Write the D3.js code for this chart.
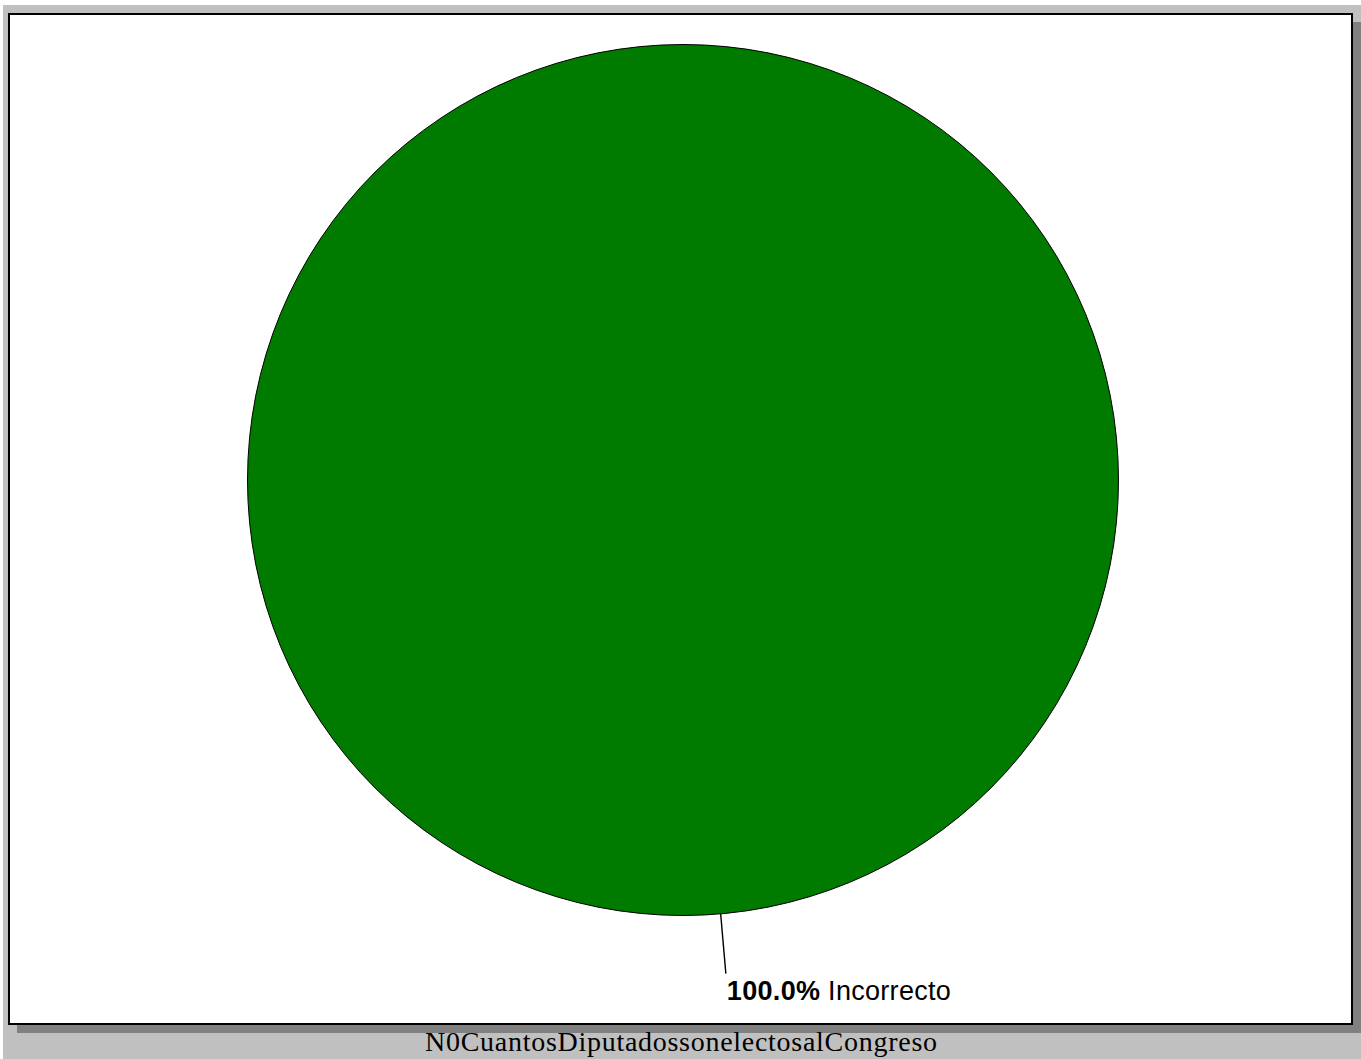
<!DOCTYPE html>
<html>
<head>
<meta charset="utf-8">
<script src="https://cdn.jsdelivr.net/npm/d3@7"></script>
<style>
  html, body { margin: 0; padding: 0; background: #ffffff; }
  svg { display: block; }
</style>
</head>
<body>
<svg id="chart" width="1361" height="1059"></svg>
<script>
const categories = ["Incorrecto"];
const values = [100];
const colors = ["#007b00"];
const title = "N0CuantosDiputadossonelectosalCongreso";

const W = 1361, H = 1059;
const svg = d3.select("#chart");

// backdrop
svg.append("rect").attr("x", 3).attr("y", 5).attr("width", W - 3).attr("height", H - 5).attr("fill", "#c0c0c0");
// shadow
svg.append("rect").attr("x", 17).attr("y", 22).attr("width", W - 17).attr("height", 1033 - 22).attr("fill", "#808080");
// panel
svg.append("rect").attr("x", 9).attr("y", 14).attr("width", 1343).attr("height", 1010)
  .attr("fill", "#ffffff").attr("stroke", "#000000").attr("stroke-width", 2);

const cx = 683, cy = 480, r = 435.5;
const g = svg.append("g").attr("transform", `translate(${cx},${cy})`);

const data = categories.map((c, i) => ({ name: c, value: values[i], color: colors[i] }));
const total = d3.sum(data, d => d.value);
const pie = d3.pie().value(d => d.value).sort(null);
const arcs = pie(data);
const arc = d3.arc().innerRadius(0).outerRadius(r);

g.selectAll("path.slice").data(arcs).join("path")
  .attr("class", "slice")
  .attr("d", arc)
  .attr("fill", d => d.data.color)
  .attr("stroke", "#000000")
  .attr("stroke-width", 1);

// leader lines & labels
const labelAngle = 3.055; // angle where the label leader leaves the pie
const leaderLen = 60;
arcs.forEach(a => {
  const ang = arcs.length === 1 ? labelAngle : (a.startAngle + a.endAngle) / 2;
  const x0 = Math.sin(ang) * r, y0 = -Math.cos(ang) * r;
  const x1 = Math.sin(ang) * (r + leaderLen), y1 = -Math.cos(ang) * (r + leaderLen);
  g.append("line").attr("x1", x0).attr("y1", y0).attr("x2", x1).attr("y2", y1)
    .attr("stroke", "#000000").attr("stroke-width", 1.4);
  const t = g.append("text")
    .attr("x", x1 + 1).attr("y", y1 + 26)
    .attr("font-family", "'Liberation Sans', Arial, sans-serif")
    .attr("font-size", 27)
    .attr("fill", "#000000")
    .attr("textLength", 224).attr("lengthAdjust", "spacing");
  t.append("tspan").attr("font-weight", "bold").text(d3.format(".1f")(a.data.value / total * 100) + "%");
  t.append("tspan").text(" " + a.data.name);
});

// title
svg.append("text")
  .attr("x", 681).attr("y", 1051)
  .attr("text-anchor", "middle")
  .attr("font-family", "'Liberation Serif', 'Times New Roman', serif")
  .attr("font-size", 28)
  .attr("fill", "#000000")
  .attr("textLength", 512).attr("lengthAdjust", "spacing")
  .text(title);
</script>
</body>
</html>
